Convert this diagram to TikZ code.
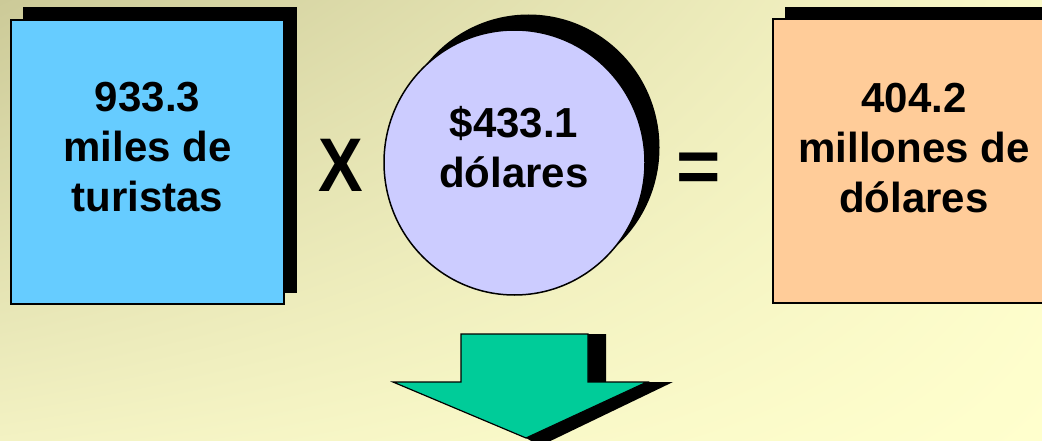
\documentclass[tikz,border=0pt]{standalone}
\usepackage{fontspec}
\setmainfont{Liberation Sans}
\usetikzlibrary{shapes.geometric,shadings}
\definecolor{bgUL}{RGB}{204,202,152}
\definecolor{bgUR}{RGB}{250,249,201}
\definecolor{bgLL}{RGB}{243,242,195}
\definecolor{bgLR}{RGB}{255,255,205}
\definecolor{boxblue}{RGB}{102,204,255}
\definecolor{circlav}{RGB}{204,204,255}
\definecolor{boxorange}{RGB}{255,204,153}
\definecolor{arrowgreen}{RGB}{0,204,153}
\begin{document}
\begin{tikzpicture}[x=1pt,y=-1pt,
  shadowbox/.style={fill=black,draw=none,inner sep=0pt,outer sep=0pt},
  mainbox/.style={draw=black,line width=1.5pt,inner sep=0pt,outer sep=0pt},
  lbl/.style={font=\fontsize{42}{50}\selectfont\bfseries,align=center,inner sep=0pt},
  opsign/.style={font=\fontsize{76}{80}\selectfont\bfseries,inner sep=0pt}]
\useasboundingbox (0,0) rectangle (1042,441);
\shade[upper left=bgUL, upper right=bgUR, lower left=bgLL, lower right=bgLR] (0,0) rectangle (1042,441);
% left box
\node[shadowbox,rectangle,minimum width=274pt,minimum height=286pt] (s1) at (160,150) {};
\node[mainbox,rectangle,fill=boxblue,minimum width=273pt,minimum height=284pt] (b1) at (147.5,162) {};
\node[lbl] (t1) at (147.5,147) {933.3\\miles de\\turistas};
% circle
\node[shadowbox,ellipse,minimum width=262pt,minimum height=266pt] (s2) at (528.5,147.5) {};
\node[mainbox,ellipse,fill=circlav,minimum width=261pt,minimum height=265pt] (c1) at (514.5,162.5) {};
\node[lbl] (t2) at (514,147) {\$433.1\\dólares};
% right box
\node[shadowbox,rectangle,minimum width=282pt,minimum height=286pt] (s3) at (926,150) {};
\node[mainbox,rectangle,fill=boxorange,minimum width=282pt,minimum height=284pt] (b3) at (914,161) {};
\node[lbl] (t3) at (914,148) {404.2\\millones de\\dólares};
% operators
\node[opsign] (x) at (340.5,165) {\scalebox{0.88}[1]{X}};
\node[opsign] (eq) at (698.5,172.5) {=};
% arrow
\fill[black] (480,334) -- (606,334) -- (606,382) -- (673,382) -- (540,446) -- (526,438) -- (470,386) -- cycle;
\filldraw[fill=arrowgreen,draw=black,line width=1.2pt,line join=miter]
  (461,334) -- (588,334) -- (588,382) -- (647,382) -- (526,438) -- (393,382) -- (461,382) -- cycle;
\end{tikzpicture}
\end{document}
